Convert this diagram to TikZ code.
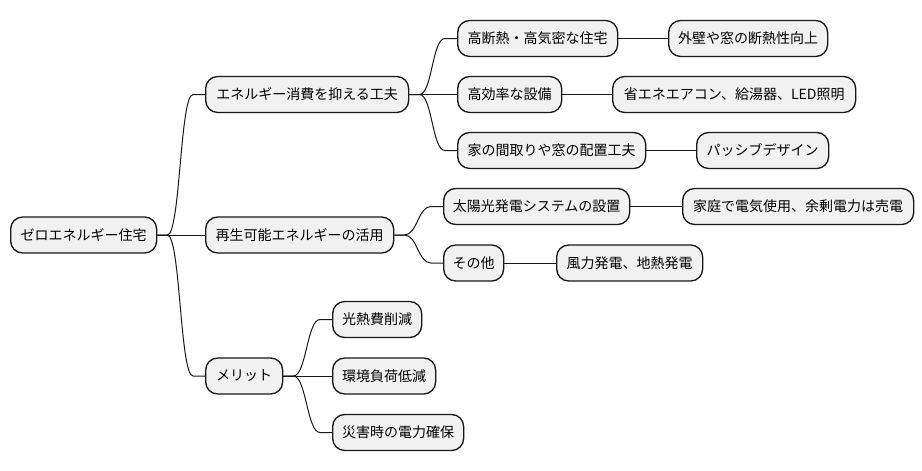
\documentclass[tikz,border=0pt]{standalone}
\usepackage{fontspec}
\setmainfont{Noto Sans CJK JP}
\definecolor{boxfill}{HTML}{F1F1F1}
\definecolor{boxline}{HTML}{181818}
\tikzset{
  mmnode/.style={draw=boxline, fill=boxfill, line width=1pt, rounded corners=9pt,
    anchor=west, minimum height=27pt, inner xsep=2pt, inner ysep=0pt,
    font=\fontsize{10.5pt}{12pt}\selectfont, text=black},
  mmline/.style={draw=boxline, line width=0.75pt},
}
\newcommand{\mmbranch}[2]{\draw[mmline] (#1.east) -- ++(10,0) .. controls +(13,0) and +(-13,0) .. ([xshift=-9pt]#2.west) -- (#2.west);}
\begin{document}
\begin{tikzpicture}[x=0.75pt,y=-0.75pt]
\useasboundingbox (0,0) rectangle (922,471);
\node[mmnode, minimum width=146*0.75pt] (root) at (10,235) {ゼロエネルギー住宅};
\node[mmnode, minimum width=203*0.75pt] (e1) at (205,94.5) {エネルギー消費を抑える工夫};
\node[mmnode, minimum width=188*0.75pt] (e2) at (205,235) {再生可能エネルギーの活用};
\node[mmnode, minimum width=77*0.75pt] (e3) at (205,376) {メリット};
\node[mmnode, minimum width=160*0.75pt] (a1) at (457,38.5) {高断熱・高気密な住宅};
\node[mmnode, minimum width=104*0.75pt] (a2) at (457,94.5) {高効率な設備};
\node[mmnode, minimum width=188*0.75pt] (a3) at (457,150.5) {家の間取りや窓の配置工夫};
\node[mmnode, minimum width=159*0.75pt] (a1c) at (668,38.5) {外壁や窓の断熱性向上};
\node[mmnode, minimum width=243*0.75pt] (a2c) at (612,94.5) {省エネエアコン、給湯器、LED照明};
\node[mmnode, minimum width=132*0.75pt] (a3c) at (696,150.5) {パッシブデザイン};
\node[mmnode, minimum width=186*0.75pt] (b1) at (443,206.5) {太陽光発電システムの設置};
\node[mmnode, minimum width=60*0.75pt] (b2) at (443,263) {その他};
\node[mmnode, minimum width=231*0.75pt] (b1c) at (682,206.5) {家庭で電気使用、余剰電力は売電};
\node[mmnode, minimum width=146*0.75pt] (b2c) at (556,263) {風力発電、地熱発電};
\node[mmnode, minimum width=89*0.75pt] (c1) at (332,319.5) {光熱費削減};
\node[mmnode, minimum width=103*0.75pt] (c2) at (332,376) {環境負荷低減};
\node[mmnode, minimum width=131*0.75pt] (c3) at (332,432.5) {災害時の電力確保};
\mmbranch{root}{e1}
\draw[mmline] (root.east) -- (e2.west);
\mmbranch{root}{e3}
\mmbranch{e1}{a1}
\draw[mmline] (e1.east) -- (a2.west);
\mmbranch{e1}{a3}
\mmbranch{e2}{b1}
\mmbranch{e2}{b2}
\mmbranch{e3}{c1}
\draw[mmline] (e3.east) -- (c2.west);
\mmbranch{e3}{c3}
\draw[mmline] (a1.east) -- (a1c.west);
\draw[mmline] (a2.east) -- (a2c.west);
\draw[mmline] (a3.east) -- (a3c.west);
\draw[mmline] (b1.east) -- (b1c.west);
\draw[mmline] (b2.east) -- (b2c.west);
\end{tikzpicture}
\end{document}
